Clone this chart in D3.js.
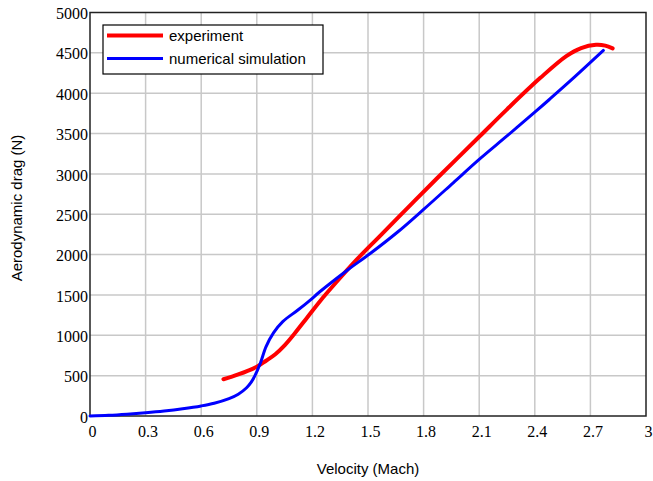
<!DOCTYPE html>
<html><head><meta charset="utf-8">
<script src="https://cdn.jsdelivr.net/npm/d3@7"></script>
<style>body{margin:0;background:#fff}svg{display:block}
.tick text{font-family:'Liberation Serif','Times New Roman',serif !important;font-size:16px !important;}
</style>
</head><body>
<svg id="chart" width="653" height="481"></svg>
<script>
const xTicks = [0, 0.3, 0.6, 0.9, 1.2, 1.5, 1.8, 2.1, 2.4, 2.7, 3];
const yTicks = [0, 500, 1000, 1500, 2000, 2500, 3000, 3500, 4000, 4500, 5000];
const seriesNames = ["experiment", "numerical simulation"];
const seriesColors = ["#ff0000", "#0000ff"];

const expMach = [0.72, 0.8, 0.9, 0.95, 1.0, 1.05, 1.1, 1.17, 1.24, 1.33, 1.44, 1.56, 1.71, 1.87, 2.1, 2.25, 2.43, 2.57, 2.65, 2.73, 2.78, 2.82];
const expDrag = [455, 515, 610, 685, 765, 875, 1010, 1215, 1420, 1660, 1940, 2220, 2570, 2940, 3460, 3800, 4190, 4460, 4560, 4600, 4590, 4555];

const simMach = [0, 0.1, 0.2, 0.3, 0.4, 0.5, 0.6, 0.67, 0.75, 0.8, 0.845, 0.87, 0.89, 0.92, 0.95, 0.99, 1.04, 1.12, 1.19, 1.24, 1.39, 1.51, 1.66, 1.8, 1.96, 2.1, 2.25, 2.4, 2.48, 2.6, 2.77];
const simDrag = [0, 8, 22, 40, 62, 90, 125, 158, 215, 270, 350, 420, 500, 660, 860, 1030, 1170, 1310, 1440, 1540, 1810, 2010, 2280, 2560, 2890, 3180, 3470, 3765, 3925, 4170, 4530];

const svg = d3.select("#chart");
const L = 90, R = 646, T = 12.5, B = 416;
const x = d3.scaleLinear().domain([0, 3]).range([L, R]);
const y = d3.scaleLinear().domain([0, 5000]).range([B, T]);

// grid
const g = svg.append("g");
g.selectAll(".vg").data(xTicks.slice(1, -1)).enter().append("line")
  .attr("x1", d => x(d)).attr("x2", d => x(d)).attr("y1", T).attr("y2", B)
  .attr("stroke", "#c8c8c8").attr("stroke-width", 1.5);
g.selectAll(".hg").data(yTicks.slice(1, -1)).enter().append("line")
  .attr("x1", L).attr("x2", R).attr("y1", d => y(d)).attr("y2", d => y(d))
  .attr("stroke", "#c8c8c8").attr("stroke-width", 1.5);

// axes
const xAxis = d3.axisBottom(x).tickValues(xTicks).tickSize(0).tickPadding(10)
  .tickFormat(d => d === 0 ? "0" : d === 3 ? "3" : d3.format(".1f")(d));
const yAxis = d3.axisLeft(y).tickValues(yTicks).tickSize(0).tickPadding(2).tickFormat(d3.format("d"));
const xa = svg.append("g").attr("transform", `translate(2,${B})`).call(xAxis);
const ya = svg.append("g").attr("transform", `translate(${L},1)`).call(yAxis);
[xa, ya].forEach(a => {
  a.select(".domain").remove();
  a.attr("font-family", "'Liberation Serif', 'Times New Roman', serif").attr("font-size", 16);
  a.selectAll("text").attr("fill", "#000");
});

// border
svg.append("rect").attr("x", L).attr("y", T).attr("width", R - L).attr("height", B - T)
  .attr("fill", "none").attr("stroke", "#222").attr("stroke-width", 1.5);

// lines
const line = d3.line().x(d => x(d[0])).y(d => y(d[1])).curve(d3.curveCatmullRom.alpha(0.5));
const expData = expMach.map((m, i) => [m, expDrag[i]]);
const simData = simMach.map((m, i) => [m, simDrag[i]]);
svg.append("path").datum(expData).attr("d", line).attr("fill", "none")
  .attr("stroke", seriesColors[0]).attr("stroke-width", 4).attr("stroke-linecap", "round");
svg.append("path").datum(simData).attr("d", line).attr("fill", "none")
  .attr("stroke", seriesColors[1]).attr("stroke-width", 3).attr("stroke-linecap", "round");

// legend
const lg = svg.append("g");
lg.append("rect").attr("x", 103).attr("y", 25).attr("width", 220).attr("height", 49)
  .attr("fill", "#fff").attr("stroke", "#000").attr("stroke-width", 1.2);
seriesNames.forEach((n, i) => {
  const yy = 35.5 + i * 23;
  lg.append("line").attr("x1", 107).attr("x2", 163).attr("y1", yy).attr("y2", yy)
    .attr("stroke", seriesColors[i]).attr("stroke-width", i === 0 ? 4 : 3);
  lg.append("text").attr("x", 169).attr("y", yy + 5).text(n)
    .attr("font-family", "'Liberation Sans', Arial, sans-serif").attr("font-size", 15).attr("fill", "#000");
});

// titles
svg.append("text").attr("x", 368).attr("y", 474).attr("text-anchor", "middle")
  .attr("font-family", "'Liberation Sans', Arial, sans-serif").attr("font-size", 15).text("Velocity (Mach)");
svg.append("text").attr("transform", "translate(22,208) rotate(-90)").attr("text-anchor", "middle")
  .attr("font-family", "'Liberation Sans', Arial, sans-serif").attr("font-size", 15).text("Aerodynamic drag (N)");
</script>
</body></html>
